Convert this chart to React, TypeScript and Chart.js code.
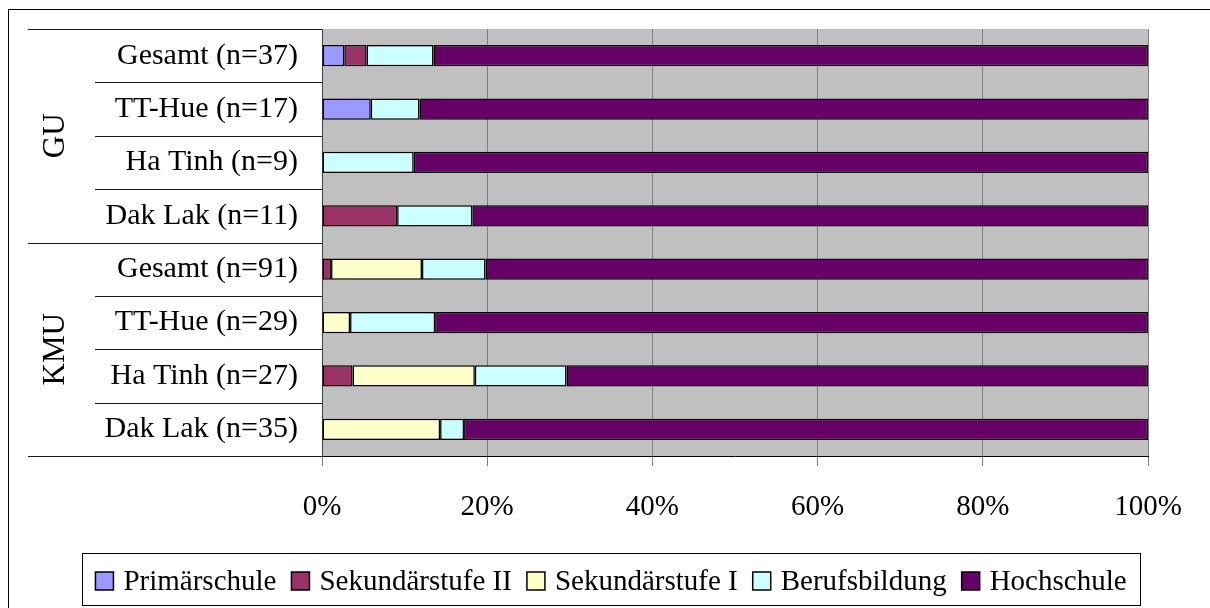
import React, { useEffect, useRef } from "react";
import { Chart, registerables } from "chart.js";

Chart.register(...registerables);

// ---- data ----
const categories = [
  "Gesamt (n=37)",
  "TT-Hue (n=17)",
  "Ha Tinh (n=9)",
  "Dak Lak (n=11)",
  "Gesamt (n=91)",
  "TT-Hue (n=29)",
  "Ha Tinh (n=27)",
  "Dak Lak (n=35)",
];
const groupNames = ["GU", "KMU"];
const groupSizes = [4, 4];

const seriesNames = ["Primärschule", "Sekundärstufe II", "Sekundärstufe I", "Berufsbildung", "Hochschule"];
const seriesColors = ["#9999FF", "#993366", "#FFFFCC", "#CCFFFF", "#660066"];

const primarschule = [2.7, 5.9, 0, 0, 0, 0, 0, 0];
const sekundarstufeII = [2.7, 0, 0, 9.1, 1.1, 0, 3.7, 0];
const sekundarstufeI = [0, 0, 0, 0, 11.0, 3.4, 14.8, 14.3];
const berufsbildung = [8.1, 5.9, 11.1, 9.1, 7.7, 10.3, 11.1, 2.9];
const hochschule = [86.5, 88.2, 88.9, 81.8, 80.2, 86.3, 70.4, 82.8];

const xTickStep = 20;
const xMin = 0;
const xMax = 100;

const FONT = '"Liberation Serif", "Times New Roman", serif';

const decorPlugin = {
  id: "decor",
  beforeDraw(chart: any) {
    const { ctx, chartArea } = chart;
    ctx.save();
    ctx.fillStyle = "#C0C0C0";
    ctx.fillRect(chartArea.left, chartArea.top, chartArea.right - chartArea.left, chartArea.bottom - chartArea.top);
    ctx.restore();
  },
  afterDraw(chart: any) {
    const { ctx, chartArea } = chart;
    const y = chart.scales.y;
    ctx.save();

    // outer frame (cut off at right and bottom like the reference)
    ctx.strokeStyle = "#000";
    ctx.lineWidth = 1;
    ctx.strokeRect(8.5, 9.5, 1400, 800);

    // category separators
    const n = categories.length;
    const half = (y.getPixelForValue(1) - y.getPixelForValue(0)) / 2;
    const bounds: number[] = [0];
    let acc = 0;
    groupSizes.forEach((s) => {
      acc += s;
      bounds.push(acc);
    });
    ctx.strokeStyle = "#1a1a1a";
    ctx.lineWidth = 1;
    for (let i = 0; i <= n; i++) {
      const py = i < n ? y.getPixelForValue(i) - half : y.getPixelForValue(n - 1) + half;
      const x0 = bounds.includes(i) ? 28 : 95;
      const yy = Math.round(py) + 0.5;
      ctx.beginPath();
      ctx.moveTo(x0, yy);
      ctx.lineTo(chartArea.left, yy);
      ctx.stroke();
    }

    // group labels
    ctx.fillStyle = "#000";
    ctx.font = `31px ${FONT}`;
    ctx.textAlign = "center";
    ctx.textBaseline = "middle";
    let start = 0;
    groupNames.forEach((g, gi) => {
      const end = start + groupSizes[gi] - 1;
      const top = y.getPixelForValue(start) - half;
      const bot = y.getPixelForValue(end) + half;
      ctx.save();
      ctx.translate(56, (top + bot) / 2);
      ctx.rotate(-Math.PI / 2);
      ctx.fillText(g, 0, 0);
      ctx.restore();
      start += groupSizes[gi];
    });

    // legend
    const boxL = 82, boxR = 1140, boxT = 553, boxB = 605;
    ctx.fillStyle = "#fff";
    ctx.fillRect(boxL, boxT, boxR - boxL, boxB - boxT);
    ctx.strokeStyle = "#000";
    ctx.lineWidth = 1;
    ctx.strokeRect(boxL + 0.5, boxT + 0.5, boxR - boxL, boxB - boxT);
    ctx.font = `29px ${FONT}`;
    const sw = 18, gapSw = 10, gapItem = 15;
    const datasets = chart.data.datasets;
    const widths = datasets.map((d: any) => ctx.measureText(d.label).width);
    let total = 0;
    widths.forEach((w: number, i: number) => {
      total += sw + gapSw + w + (i < widths.length - 1 ? gapItem : 0);
    });
    let x = (boxL + boxR) / 2 - total / 2;
    const cy = 581;
    ctx.textAlign = "left";
    ctx.textBaseline = "middle";
    datasets.forEach((d: any, i: number) => {
      ctx.fillStyle = d.backgroundColor;
      ctx.fillRect(x, cy - sw / 2, sw, sw);
      ctx.strokeStyle = "#000";
      ctx.lineWidth = 1.5;
      ctx.strokeRect(x, cy - sw / 2, sw, sw);
      ctx.fillStyle = "#000";
      ctx.fillText(d.label, x + sw + gapSw, cy + 1);
      x += sw + gapSw + widths[i] + gapItem;
    });

    ctx.restore();
  },
};

export default function App() {
  const ref = useRef<HTMLCanvasElement | null>(null);

  useEffect(() => {
    if (!ref.current) return;
    const values = [primarschule, sekundarstufeII, sekundarstufeI, berufsbildung, hochschule];
    const chart = new Chart(ref.current, {
      type: "bar",
      data: {
        labels: categories,
        datasets: seriesNames.map((name, i) => ({
          label: name,
          data: values[i],
          backgroundColor: seriesColors[i],
          borderColor: "#000",
          borderWidth: 1.5,
          borderSkipped: false,
          barPercentage: 0.4,
          categoryPercentage: 1,
        })),
      },
      options: {
        indexAxis: "y",
        responsive: false,
        animation: false,
        layout: { padding: { left: 0, top: 29, right: 62, bottom: 92 } },
        plugins: { legend: { display: false }, tooltip: { enabled: false } },
        scales: {
          x: {
            type: "linear",
            stacked: true,
            min: xMin,
            max: xMax,
            afterFit: (s: any) => {
              s.height = 60;
            },
            ticks: {
              stepSize: xTickStep,
              callback: (v: any) => `${v}%`,
              color: "#000",
              font: { family: FONT, size: 29 },
              padding: 24,
            },
            grid: { color: "#808080", lineWidth: 1, tickLength: 10, drawTicks: true },
            border: { display: true, color: "#000", width: 1 },
          },
          y: {
            type: "category",
            stacked: true,
            afterFit: (s: any) => {
              s.width = 322;
              s.paddingTop = 0;
              s.paddingBottom = 0;
            },
            ticks: {
              color: "#000",
              font: { family: FONT, size: 30 },
              padding: 24,
              autoSkip: false,
            },
            grid: { display: false, drawTicks: false },
            border: { display: true, color: "#404040", width: 1 },
          },
        },
      },
      plugins: [decorPlugin],
    } as any);
    return () => chart.destroy();
  }, []);

  return (
    <div style={{ position: "fixed", left: 0, top: 0, width: 1210, height: 608, background: "#fff" }}>
      <canvas ref={ref} width={1210} height={608} style={{ display: "block" }} />
    </div>
  );
}
